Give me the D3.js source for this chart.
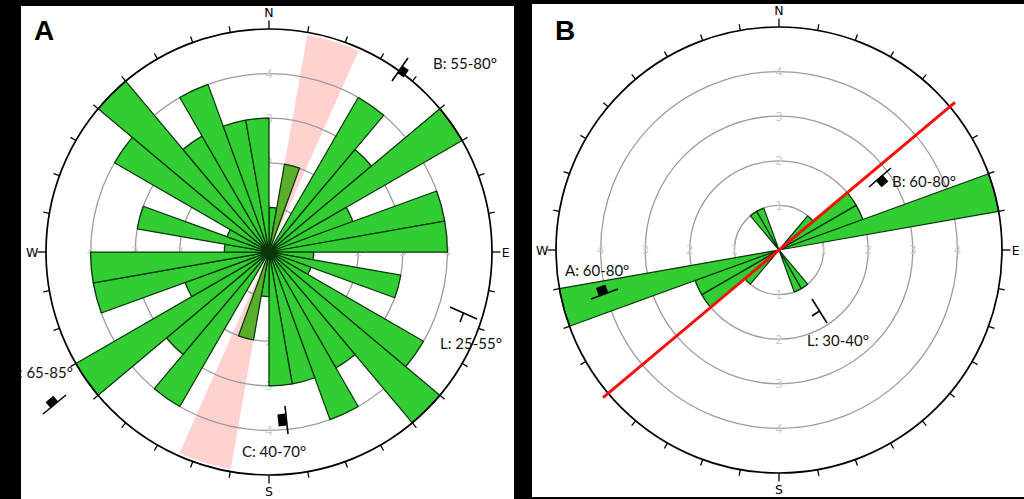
<!DOCTYPE html>
<html><head><meta charset="utf-8">
<script src="https://cdn.jsdelivr.net/npm/d3@7"></script>
<style>html,body{margin:0;padding:0;background:#000}svg{display:block}</style>
</head><body><svg id="c" width="1024" height="499"></svg>
<script>
// Bin starts, clockwise from north, every 10 degrees
const binStarts = d3.range(0, 360, 10);
const ringValues = [1, 2, 3, 4];
const outerValue = 5;
const compass = [["N", 0], ["E", 90], ["S", 180], ["W", 270]];
const tickAngles = d3.range(0, 360, 10);

// Panel A counts per 10 degree bin (0-10, 10-20, ...)
const valuesA = [1,2,0,4,3,5,2,4,4,1,3,1,4,5,3,4,3,3,1,2,0,4,3,5,2,4,4,1,3,1,4,5,3,4,3,3];
const overlapBinsA = [10, 190];
const pinkBandsA = [[10, 24], [190, 204]];
const labelsA = ["B: 55-80°", "A: 65-85°", "L: 25-55°", "C: 40-70°"];

// Panel B counts per 10 degree bin
const valuesB = [0,0,0,0,1,2,2,5,0,0,0,0,0,0,1,1,0,0,0,0,0,0,1,2,2,5,0,0,0,0,0,0,1,1,0,0];
const faultStrikeB = 50;
const labelsB = ["B: 60-80°", "A: 60-80°", "L: 30-40°"];

const svg = d3.select("#c");
const defs = svg.append("defs");
const radius = d3.scaleLinear().domain([0, outerValue]).range([0, 223]);
const angle = d3.scaleLinear().domain([0, 360]).range([0, 2 * Math.PI]);
const arc = d3.arc();
const polar = (deg, v) => {
  const a = angle(deg), r = radius(v);
  return [r * Math.sin(a), -r * Math.cos(a)];
};

function panel(id, box, letter, letterPos, cx, cy, values, overlap, bands) {
  defs.append("clipPath").attr("id", id).append("rect")
    .attr("x", box[0]).attr("y", box[1]).attr("width", box[2]).attr("height", box[3]);
  svg.append("rect").attr("x", box[0]).attr("y", box[1]).attr("width", box[2]).attr("height", box[3]).attr("fill", "#fff");
  const outer = svg.append("g").attr("clip-path", `url(#${id})`);
  outer.append("text").attr("x", letterPos[0]).attr("y", letterPos[1]).text(letter)
    .attr("font-family", "Liberation Sans").attr("font-weight", "bold").attr("font-size", 28).attr("fill", "#000");
  const g = outer.append("g").attr("transform", `translate(${cx},${cy})`);

  g.selectAll(".band").data(bands).join("path")
    .attr("d", d => arc({innerRadius: 0, outerRadius: radius(4.94), startAngle: angle(d[0]), endAngle: angle(d[1])}))
    .attr("fill", "#ffd2d0");

  g.selectAll(".ring").data(ringValues).join("circle")
    .attr("r", d => radius(d)).attr("fill", "none").attr("stroke", "#9c9c9c").attr("stroke-width", 1.3);

  ringValues.forEach(v => [0, 90, 180, 270].forEach(a => {
    const p = polar(a, v);
    g.append("text").attr("x", p[0]).attr("y", p[1]).attr("dy", "0.36em").attr("text-anchor", "middle")
      .attr("font-family", "DejaVu Sans").attr("font-size", 12).attr("fill", "#cccccc").text(v);
  }));

  g.selectAll(".bar").data(binStarts.map((b, i) => ({b, v: values[i]})).filter(d => d.v > 0)).join("path")
    .attr("d", d => arc({innerRadius: 0, outerRadius: radius(d.v), startAngle: angle(d.b), endAngle: angle(d.b + 10)}))
    .attr("fill", d => overlap.includes(d.b) ? "#5bae2b" : "#32cd32")
    .attr("stroke", "#0a340a").attr("stroke-width", 1.25).attr("stroke-linejoin", "round");

  g.append("circle").attr("r", radius(outerValue)).attr("fill", "none").attr("stroke", "#000").attr("stroke-width", 1.7);

  g.selectAll(".tick").data(tickAngles).join("line")
    .each(function(d) {
      const p0 = polar(d, outerValue), p1 = polar(d, outerValue + (d % 90 === 0 ? 0.19 : 0.14));
      d3.select(this).attr("x1", p0[0]).attr("y1", p0[1]).attr("x2", p1[0]).attr("y2", p1[1]);
    }).attr("stroke", "#000").attr("stroke-width", 1.3);

  g.selectAll(".cardinal").data(compass).join("text")
    .each(function(d) {
      const p = polar(d[1], outerValue + (d[1] % 180 === 0 ? 0.36 : 0.31));
      d3.select(this).attr("x", p[0]).attr("y", p[1]);
    })
    .attr("dy", "0.36em").attr("text-anchor", "middle").attr("font-family", "DejaVu Sans")
    .attr("font-size", 12.5).attr("fill", "#000").text(d => d[0]);
  return {outer, g};
}

function note(sel, txt, x, y, anchor) {
  sel.append("text").attr("x", x).attr("y", y).attr("text-anchor", anchor || "start")
    .attr("font-family", "Lato").attr("font-size", 15).attr("fill", "#111").text(txt);
}
function seg(sel, x1, y1, x2, y2, w) {
  sel.append("line").attr("x1", x1).attr("y1", y1).attr("x2", x2).attr("y2", y2)
    .attr("stroke", "#000").attr("stroke-width", w || 1.6);
}
function block(sel, x, y, w, h, rot) {
  sel.append("rect").attr("x", -w / 2).attr("y", -h / 2).attr("width", w).attr("height", h)
    .attr("transform", `translate(${x},${y}) rotate(${rot})`).attr("fill", "#000");
}

// Panel A
const A = panel("pa", [21, 6, 493, 493], "A", [34, 40], 269, 252, valuesA, overlapBinsA, pinkBandsA);
note(A.outer, labelsA[0], 433, 69);
note(A.outer, labelsA[1], 73, 378, "end");
note(A.outer, labelsA[2], 440, 349);
note(A.outer, labelsA[3], 242, 457);
seg(A.outer, 392, 81, 408, 58); block(A.outer, 403, 71.5, 9, 8, -56);
seg(A.outer, 43, 414, 66, 395); block(A.outer, 52, 402, 10, 8, -40);
seg(A.outer, 285, 406, 288, 434); block(A.outer, 282, 420, 12, 8, 84);
seg(A.outer, 450, 307, 477, 319); seg(A.outer, 463.5, 313, 460, 322);

// Panel B
const B = panel("pb", [532, 4, 492, 493], "B", [555, 40], 779, 250, valuesB, [], []);
const f0 = polar(faultStrikeB, 5.15), f1 = polar(faultStrikeB + 180, 5.15);
B.g.append("line").attr("x1", f0[0]).attr("y1", f0[1]).attr("x2", f1[0]).attr("y2", f1[1])
  .attr("stroke", "#f40f0f").attr("stroke-width", 3);
note(B.outer, labelsB[0], 892, 187);
note(B.outer, labelsB[1], 565, 276);
note(B.outer, labelsB[2], 807, 346);
seg(B.outer, 869, 187, 891, 168); block(B.outer, 882, 181, 9, 9, -41);
seg(B.outer, 591, 299, 618, 289); block(B.outer, 602, 290, 10, 8, -20);
seg(B.outer, 812, 299, 827, 323); seg(B.outer, 819.5, 311, 812, 316);
</script></body></html>
